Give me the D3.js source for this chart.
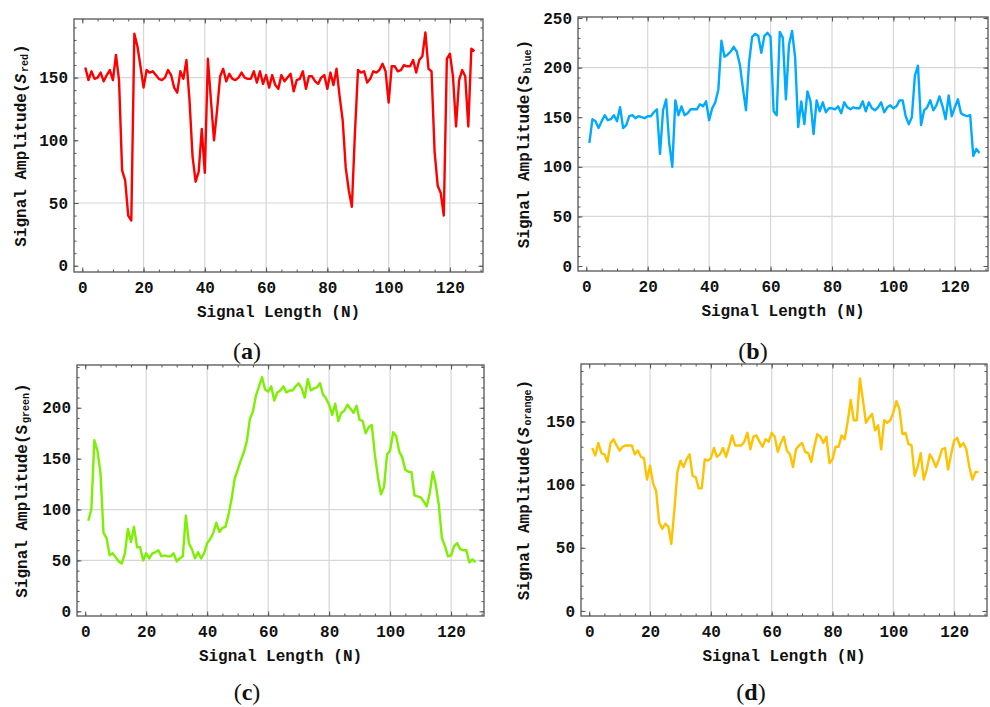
<!DOCTYPE html>
<html>
<head>
<meta charset="utf-8">
<script src="https://cdn.jsdelivr.net/npm/d3@7"></script>
<style>
body { margin: 0; background: #fff; }
svg { display: block; background: #fff; }
.tick text { font-family: "Liberation Mono", monospace; font-weight: bold; font-size: 16px; fill: #111; }
.tick line { stroke: #555; stroke-width: 1; }
.mono { font-family: "Liberation Mono", monospace; font-weight: bold; font-size: 16px; fill: #111; }
.cap { font-family: "Liberation Serif", serif; font-size: 24px; fill: #111; }
</style>
</head>
<body>
<svg id="chart" width="990" height="707"></svg>
<script>
// sample index 1..128
var sampleIdx = d3.range(1, 129);

var redVals = [158,148,155,149,150,154,147,152,156,148,168,148,76,68,40,36,185,175,159,142,
  156,154,155,152,149,148,150,156,152,142,138,155,149,164,132,87,67,75,109,74,
  165,132,100,124,151,157,147,153,149,148,150,154,150,149,149,155,146,155,145,152,
  142,152,144,141,152,147,150,153,139,148,149,155,141,151,151,147,145,150,152,141,
  154,144,157,135,116,78,60,47,106,156,154,155,146,149,155,154,156,161,155,130,
  159,159,155,156,160,159,159,164,154,164,167,186,157,155,91,64,58,40,165,169,
  151,111,148,156,151,111,173,171];

var blueVals = [124,148,146,139,146,152,147,148,152,146,160,139,142,151,152,149,151,150,149,151,
  151,155,158,113,157,168,124,100,167,152,161,152,154,158,158,158,163,161,166,147,
  159,165,178,227,211,213,216,221,216,203,179,157,205,231,234,232,215,232,235,231,
  156,152,236,230,168,223,237,210,140,166,143,176,166,133,167,156,165,155,159,159,
  158,161,154,165,160,158,160,159,159,166,156,165,159,157,160,165,155,160,162,159,
  161,167,167,151,143,150,192,202,142,157,160,167,157,162,171,161,148,172,151,160,
  168,154,152,151,152,111,118,114];

var greenVals = [89,100,168,158,136,77,72,55,57,53,49,47,57,81,68,83,63,63,50,57,
  52,57,58,60,54,55,54,54,57,49,52,54,94,67,61,52,58,52,57,67,
  71,77,87,78,82,83,95,110,130,139,148,156,167,189,196,212,221,230,218,216,
  221,207,215,217,221,215,217,217,221,224,219,210,228,217,219,220,224,213,209,203,
  193,204,187,195,197,203,199,195,202,188,187,175,181,183,154,132,115,122,154,158,
  176,172,157,151,139,137,137,114,113,112,108,103,116,137,124,104,72,64,54,55,
  64,67,61,60,60,48,51,48];

var orangeVals = [129,123,133,125,124,118,133,136,131,127,130,131,131,131,124,127,122,121,104,115,
  101,95,70,65,69,67,53,80,110,119,114,120,124,107,106,97,97,120,119,121,
  129,122,124,129,122,130,139,131,131,131,134,141,128,138,139,134,130,136,134,141,
  138,126,133,138,127,124,114,128,131,133,126,125,118,130,140,138,133,138,117,120,
  130,130,139,136,150,167,151,151,184,167,149,153,156,143,147,128,151,149,151,157,
  166,160,140,141,132,131,107,114,125,104,112,124,120,114,120,128,129,112,124,135,
  137,130,133,128,114,104,110,110];

var xTicks = [0, 20, 40, 60, 80, 100, 120];
var xGridVals = [20, 40, 60, 80, 100, 120];
var yTicksRed = [0, 50, 100, 150];
var yTicksBlue = [0, 50, 100, 150, 200, 250];
var yTicksGreen = [0, 50, 100, 150, 200];
var yTicksOrange = [0, 50, 100, 150];
var xTitle = "Signal Length (N)";
var yTitle = "Signal Amplitude(";

var xDomain = [-2.7, 130.8];

var panels = [
  {vals: redVals, color: "#ff0000", sub: "red", italicS: true, yTicks: yTicksRed, yDom: [-5, 196.7],
   gridY: [50, 150], caption: "a", left: 74, top: 19, right: 483, bottom: 272, titleX: 26, capX: 247, capY: 359},
  {vals: blueVals, color: "#00aaff", sub: "blue", italicS: false, yTicks: yTicksBlue, yDom: [-5, 251],
   gridY: [50, 100, 200], caption: "b", left: 578, top: 17, right: 988, bottom: 271, titleX: 529, capX: 753, capY: 359},
  {vals: greenVals, color: "#7cf000", sub: "green", italicS: false, yTicks: yTicksGreen, yDom: [-4.6, 242],
   gridY: [50, 100], caption: "c", left: 77, top: 365, right: 484, bottom: 616, titleX: 27, capX: 247, capY: 700},
  {vals: orangeVals, color: "#ffc200", sub: "orange", italicS: true, yTicks: yTicksOrange, yDom: [-4, 195.5],
   gridY: [], caption: "d", left: 581, top: 364, right: 987, bottom: 616, titleX: 529, capX: 751, capY: 700}
];

var svg = d3.select("#chart");

function noDomain(sel) { sel.select(".domain").remove(); }

panels.forEach(function(p) {
  var x = d3.scaleLinear().domain(xDomain).range([p.left, p.right]);
  var y = d3.scaleLinear().domain(p.yDom).range([p.bottom, p.top]);
  var g = svg.append("g");

  var xMinor = d3.range(0, 131, 5);
  var yMinor = d3.range(0, p.yDom[1], 10);

  // grid
  g.selectAll(".vgrid").data(xGridVals).enter().append("line")
    .attr("x1", function(d) { return x(d); }).attr("x2", function(d) { return x(d); })
    .attr("y1", p.top).attr("y2", p.bottom)
    .attr("stroke", "#d6d6d6").attr("stroke-width", 1.2);
  g.selectAll(".hgrid").data(p.gridY).enter().append("line")
    .attr("y1", function(d) { return y(d); }).attr("y2", function(d) { return y(d); })
    .attr("x1", p.left).attr("x2", p.right)
    .attr("stroke", "#d6d6d6").attr("stroke-width", 1.2);

  // signal line
  g.append("path").datum(p.vals)
    .attr("fill", "none")
    .attr("stroke", p.color)
    .attr("stroke-width", 2.4)
    .attr("stroke-linejoin", "round")
    .attr("d", d3.line()
      .x(function(d, i) { return x(sampleIdx[i]); })
      .y(function(d) { return y(d); }));

  // minor ticks, all four sides
  g.append("g").attr("transform", "translate(0," + p.bottom + ")")
    .call(d3.axisBottom(x).tickValues(xMinor).tickSize(-2.5).tickFormat("")).call(noDomain);
  g.append("g").attr("transform", "translate(0," + p.top + ")")
    .call(d3.axisTop(x).tickValues(xMinor).tickSize(-2.5).tickFormat("")).call(noDomain);
  g.append("g").attr("transform", "translate(" + p.left + ",0)")
    .call(d3.axisLeft(y).tickValues(yMinor).tickSize(-2.5).tickFormat("")).call(noDomain);
  g.append("g").attr("transform", "translate(" + p.right + ",0)")
    .call(d3.axisRight(y).tickValues(yMinor).tickSize(-2.5).tickFormat("")).call(noDomain);

  // major ticks + labels
  g.append("g").attr("transform", "translate(0," + p.bottom + ")")
    .call(d3.axisBottom(x).tickValues(xTicks).tickSize(-4.5).tickPadding(9.5)).call(noDomain);
  g.append("g").attr("transform", "translate(0," + p.top + ")")
    .call(d3.axisTop(x).tickValues(xTicks).tickSize(-4.5).tickFormat("")).call(noDomain);
  g.append("g").attr("transform", "translate(" + p.left + ",0)")
    .call(d3.axisLeft(y).tickValues(p.yTicks).tickSize(-4.5).tickPadding(6)).call(noDomain);
  g.append("g").attr("transform", "translate(" + p.right + ",0)")
    .call(d3.axisRight(y).tickValues(p.yTicks).tickSize(-4.5).tickFormat("")).call(noDomain);

  // frame
  g.append("rect")
    .attr("x", p.left).attr("y", p.top)
    .attr("width", p.right - p.left).attr("height", p.bottom - p.top)
    .attr("fill", "none").attr("stroke", "#555").attr("stroke-width", 1.3);

  // x title
  g.append("text").attr("class", "mono")
    .attr("x", (p.left + p.right) / 2).attr("y", p.bottom + 45)
    .attr("text-anchor", "middle")
    .text(xTitle);

  // y title with subscript
  var t = g.append("text").attr("class", "mono")
    .attr("text-anchor", "middle")
    .attr("transform", "translate(" + p.titleX + "," + ((p.top + p.bottom) / 2) + ") rotate(-90)");
  t.append("tspan").text(yTitle);
  t.append("tspan").text("S").style("font-style", p.italicS ? "italic" : "normal");
  t.append("tspan").text(p.sub).attr("font-size", 10).attr("dx", 2).attr("dy", 2);
  t.append("tspan").text(")").attr("dy", -2);

  // caption
  var c = g.append("text").attr("class", "cap")
    .attr("x", p.capX).attr("y", p.capY).attr("text-anchor", "middle");
  c.append("tspan").text("(");
  c.append("tspan").text(p.caption).attr("font-weight", "bold");
  c.append("tspan").text(")");
});
</script>
</body>
</html>
